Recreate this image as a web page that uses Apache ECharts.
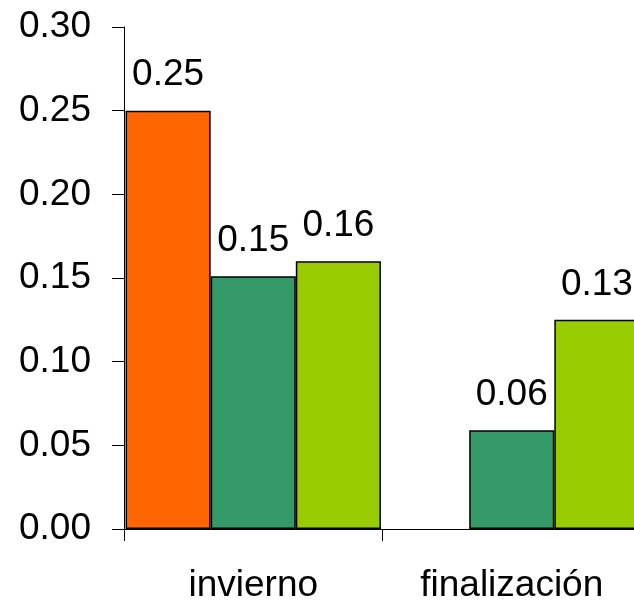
<!DOCTYPE html>
<html>
<head>
<meta charset="utf-8">
<style>
html,body{margin:0;padding:0;background:#fff;}
#chart{width:634px;height:604px;}
</style>
<script src="https://cdn.jsdelivr.net/npm/echarts@6/dist/echarts.min.js"></script>
</head>
<body>
<div id="chart"></div>
<script>
const categories = ['invierno', 'finalización'];
const serieNaranja = [0.25, null];
const serieVerde = [0.151, 0.059];
const serieLima = [0.160, 0.125];
const seriesNames = ['Serie 1', 'Serie 2', 'Serie 3'];
const seriesColors = ['#FF6600', '#339966', '#99CC00'];

const FONT = 'Liberation Sans, Arial, sans-serif';
const chart = echarts.init(document.getElementById('chart'), null, {renderer: 'canvas'});

function mkSeries(name, data, color) {
  return {
    name: name,
    type: 'bar',
    data: data,
    barGap: '0%',
    barCategoryGap: '1.2%',
    itemStyle: {color: color, borderColor: '#000', borderWidth: 1.5},
    label: {
      show: true,
      position: 'top',
      distance: 17,
      color: '#000',
      fontSize: 37,
      fontFamily: FONT,
      formatter: p => (p.value == null ? '' : Number(p.value).toFixed(2))
    },
    emphasis: {disabled: true},
    animation: false
  };
}

chart.setOption({
  animation: false,
  grid: {left: 124, top: 27, width: 517, bottom: 75, outerBoundsMode: 'none', containLabel: false},
  xAxis: {
    type: 'category',
    data: categories,
    axisLine: {lineStyle: {color: '#000', width: 1}},
    axisTick: {show: true, length: 12, alignWithLabel: false, lineStyle: {color: '#000'}},
    axisLabel: {color: '#000', fontSize: 37, fontFamily: FONT, margin: 38, interval: 0}
  },
  yAxis: {
    type: 'value',
    min: 0,
    max: 0.3,
    interval: 0.05,
    splitLine: {show: false},
    axisLine: {show: true, lineStyle: {color: '#000', width: 1}},
    axisTick: {show: true, length: 12, lineStyle: {color: '#000'}},
    axisLabel: {color: '#000', fontSize: 37, fontFamily: FONT, margin: 33, formatter: v => v.toFixed(2)}
  },
  series: [
    mkSeries(seriesNames[0], serieNaranja, seriesColors[0]),
    mkSeries(seriesNames[1], serieVerde, seriesColors[1]),
    mkSeries(seriesNames[2], serieLima, seriesColors[2])
  ]
});
</script>
</body>
</html>
